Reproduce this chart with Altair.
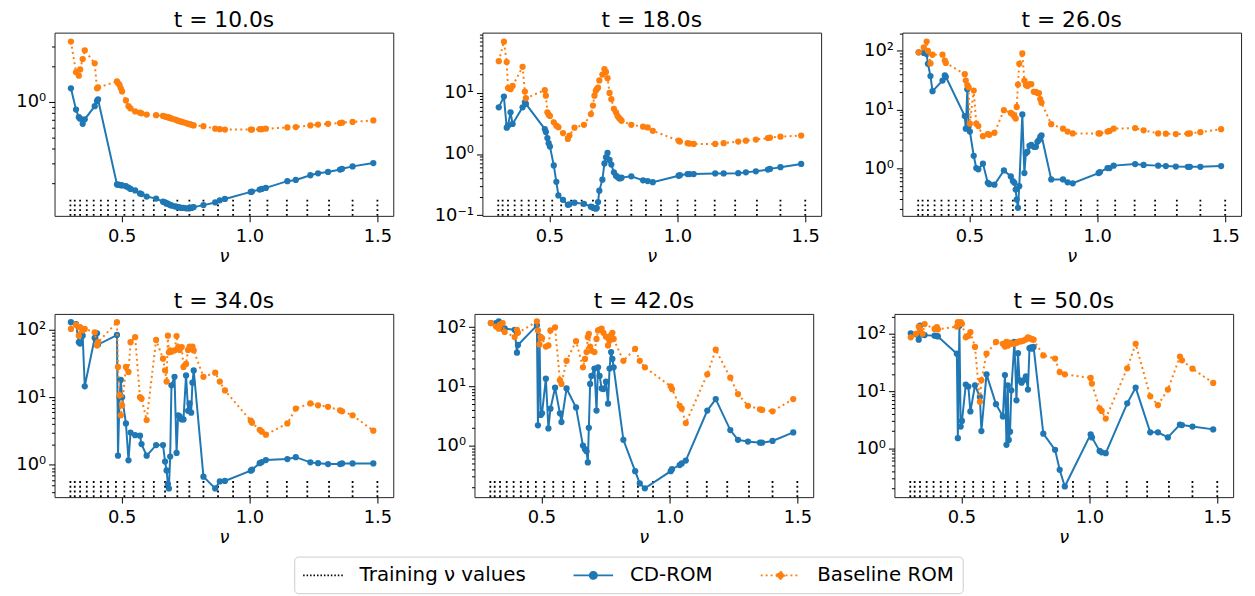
import altair as alt
import pandas as pd

# ---------------- data ----------------
NU_TRAIN = [0.300, 0.317, 0.338, 0.364, 0.391, 0.419, 0.447, 0.478, 0.511, 0.546,
            0.585, 0.626, 0.670, 0.718, 0.765, 0.820, 0.877, 0.936, 1.001, 1.070,
            1.146, 1.226, 1.311, 1.403, 1.500]

NU_TEST = [0.302, 0.322, 0.333, 0.338, 0.348, 0.356, 0.395, 0.404, 0.408,
           0.482, 0.486, 0.492, 0.497, 0.502, 0.517, 0.527, 0.535, 0.553, 0.572, 0.578, 0.598, 0.635,
           0.662, 0.670, 0.676, 0.681, 0.685, 0.690, 0.695, 0.707, 0.715, 0.721, 0.727, 0.735, 0.742,
           0.752, 0.760, 0.766, 0.772, 0.777, 0.782,
           0.820, 0.866, 0.884, 0.904, 1.005, 1.010, 1.040, 1.048, 1.064, 1.148, 1.181, 1.238, 1.268,
           1.307, 1.354, 1.362, 1.403, 1.484]

TITLES = ["t = 10.0s", "t = 18.0s", "t = 26.0s", "t = 34.0s", "t = 42.0s", "t = 50.0s"]

CD_10 = [1.31, 0.86, 0.74, 0.72, 0.65, 0.71, 0.92, 1.02, 1.05,
         0.197, 0.196, 0.195, 0.194, 0.193, 0.19, 0.185, 0.18, 0.175, 0.165, 0.163, 0.155, 0.149,
         0.140, 0.138, 0.136, 0.134, 0.133, 0.131, 0.130, 0.128, 0.127, 0.126, 0.125, 0.124, 0.124,
         0.123, 0.123, 0.123, 0.124, 0.125, 0.126,
         0.131, 0.138, 0.144, 0.148, 0.170, 0.171, 0.178, 0.180, 0.184, 0.21, 0.215, 0.236, 0.245,
         0.252, 0.264, 0.268, 0.281, 0.30]
BASE_10 = [3.29, 1.8, 1.68, 1.9, 2.33, 2.77, 2.14, 1.31, 1.33,
           1.5, 1.45, 1.40, 1.31, 1.23, 1.03, 0.92, 0.88, 0.83, 0.81, 0.80, 0.78, 0.77,
           0.76, 0.75, 0.745, 0.74, 0.735, 0.73, 0.72, 0.71, 0.70, 0.69, 0.685, 0.675, 0.67,
           0.66, 0.65, 0.645, 0.64, 0.635, 0.63,
           0.62, 0.59, 0.585, 0.58, 0.58, 0.58, 0.585, 0.585, 0.59, 0.605, 0.61, 0.63, 0.64,
           0.65, 0.66, 0.665, 0.675, 0.695]

CD_18 = [5.8, 8.7, 2.7, 2.9, 4.8, 3.1, 5.8, 7.0, 6.6,
         2.56, 2.3, 1.82, 1.5, 1.32, 0.65, 0.35, 0.21, 0.178, 0.147, 0.15, 0.159, 0.153,
         0.137, 0.132, 0.130, 0.127, 0.13, 0.163, 0.25, 0.38, 0.70, 0.88, 1.04, 0.8, 0.67,
         0.5, 0.44, 0.42, 0.40, 0.40, 0.41,
         0.43, 0.37, 0.36, 0.345, 0.44, 0.45, 0.47, 0.47, 0.47, 0.48, 0.48, 0.485, 0.50,
         0.52, 0.555, 0.57, 0.607, 0.687]
BASE_18 = [33, 69, 32, 12, 11.5, 13, 26.7, 10.5, 8.2,
           11.1, 9.0, 4.8, 4.4, 4.2, 3.3, 2.9, 2.75, 2.2, 1.76, 2.0, 2.7, 3.0,
           4.5, 6.2, 9.0, 10.8, 11.5, 12.2, 16, 20, 24.4, 22, 17.4, 10, 7.9,
           5.5, 4.8, 4.2, 3.9, 3.7, 3.5,
           3.0, 2.8, 2.72, 2.4, 1.65, 1.6, 1.5, 1.48, 1.46, 1.46, 1.5, 1.6, 1.65,
           1.72, 1.82, 1.85, 1.92, 2.0]

CD_26 = [94, 92, 88, 60, 37, 20.5, 31, 38, 36,
         7.7, 4.7, 22, 5.1, 4.2, 1.62, 1.0, 0.95, 1.19, 0.56, 0.53, 0.52, 0.91,
         0.72, 0.60, 0.56, 0.43, 0.29, 0.21, 0.49, 8.2, 0.82, 1.79, 1.9, 2.4, 2.48,
         2.3, 2.3, 2.8, 3.0, 3.4, 3.6,
         0.64, 0.64, 0.57, 0.55, 0.82, 0.85, 1.0, 1.0, 1.1, 1.17, 1.13, 1.1, 1.08,
         1.06, 1.05, 1.05, 1.05, 1.08]
BASE_26 = [94, 114, 144, 100, 61, 86, 86, 68, 62,
           40, 31, 26, 24, 5.7, 21, 5.7, 5.2, 3.5, 3.8, 3.7, 4.0, 9.7,
           8.7, 8.2, 7.6, 7.0, 11, 26.6, 60, 90, 31, 26, 25, 27, 27,
           20, 20, 19, 19, 15, 13,
           5.6, 4.7, 4.2, 3.9, 3.9, 3.9, 4.2, 4.3, 4.7, 4.8, 4.4, 3.9, 3.85,
           3.8, 3.85, 3.9, 4.1, 4.6]

CD_34 = [128, 120, 65, 62, 81, 14.5, 75, 88, 60,
         83, 1.37, 10, 18, 10, 4.1, 1.17, 3.0, 2.75, 2.7, 2.03, 1.37, 1.96,
         1.96, 1.12, 0.83, 0.52, 0.45, 1.33, 15, 20, 1.5, 5.4, 5.2, 4.7, 4.7,
         21, 6.3, 8.1, 5.9, 16.4, 24.9,
         0.67, 0.45, 0.57, 0.58, 0.82, 0.85, 1.06, 1.1, 1.18, 1.22, 1.3, 1.09, 1.06,
         1.03, 1.03, 1.05, 1.05, 1.05]
BASE_34 = [102, 118, 81, 108, 97, 102, 91, 58, 65,
           128, 28, 10.7, 5.4, 7.6, 28, 23.6, 65, 77, 10, 9.5, 4.6, 70,
           37, 25, 17, 81, 46, 49, 47, 49, 80, 55, 50, 55, 28,
           31, 50, 56, 52, 56, 49,
           20, 23, 17, 12.6, 4.5, 4.2, 3.3, 3.1, 2.8, 4.1, 6.8, 8.1, 7.6,
           7.2, 6.4, 6.2, 5.4, 3.2]

CD_42 = [117, 117, 125, 110, 94, 95, 90, 37, 50,
         107, 2.2, 70, 3.3, 3.5, 13.5, 1.95, 4.2, 9.5, 3.5, 2.5, 9.2, 4.4,
         1.0, 0.87, 0.8, 0.52, 2.0, 11, 15, 20, 3.9, 21, 15, 9.2, 9.0,
         12, 5.1, 20, 38, 29, 21,
         1.25, 0.37, 0.23, 0.19, 0.37, 0.40, 0.47, 0.5, 0.56, 3.9, 6.1, 1.83, 1.25,
         1.17, 1.12, 1.12, 1.2, 1.67]
BASE_42 = [117, 102, 94, 110, 117, 83, 68, 90, 80,
           125, 88, 51, 68, 65, 47, 49, 88, 99, 12.7, 11, 27, 58,
           21, 29, 38, 68, 77, 47, 40, 38, 63, 88, 90, 94, 80,
           69, 49, 59, 73, 80, 63,
           27, 43, 27, 21, 10, 9, 4.7, 4.2, 2.4, 16, 41.5, 14, 7.4,
           4.7, 4.1, 4.0, 3.8, 6.1]

CD_50 = [102, 98, 79, 139, 97, 95, 93, 92, 90,
         45, 1.5, 139, 2.4, 3.0, 13, 12, 4.4, 12.6, 7.9, 2.0, 19.6, 5.9,
         3.6, 19, 1.15, 12.6, 1.4, 1.95, 10.3, 72, 6.9, 46, 15.4, 14, 15.4,
         18, 10.6, 56, 58, 55, 59,
         1.8, 0.94, 0.42, 0.215, 1.75, 1.55, 0.9, 0.85, 0.82, 6.1, 11.5, 1.9, 1.9,
         1.55, 2.6, 2.55, 2.4, 2.14]
BASE_50 = [87, 100, 134, 114, 100, 148, 122, 131, 120,
           134, 160, 148, 160, 150, 87, 92, 107, 59, 6.5, 15.5, 45, 72,
           67, 60, 72, 62, 67, 70, 67, 67, 70, 72, 74, 74, 76,
           80, 87, 84, 82, 80, 79,
           42, 37, 21.5, 19.6, 17, 13.5, 5.0, 4.5, 3.3, 25, 67, 8.1, 5.7,
           10.6, 40, 34.5, 24.6, 13.9]

CD_ALL = [CD_10, CD_18, CD_26, CD_34, CD_42, CD_50]
BASE_ALL = [BASE_10, BASE_18, BASE_26, BASE_34, BASE_42, BASE_50]
Y_DOMAINS = [[0.106, 3.92], [0.097, 97], [0.153, 204], [0.334, 170], [0.135, 167], [0.14, 223]]

SERIES = ["Training \u03bd values", "CD-ROM", "Baseline ROM"]
COLORS = ["#000000", "#1f77b4", "#ff7f0e"]

# ---------------- style ----------------
FONT = "DejaVu Sans"
W, H = 342, 185
color_scale = alt.Scale(domain=SERIES, range=COLORS)
x_scale = alt.Scale(domain=[0.238, 1.562], nice=False, zero=False)

E = "round(log(datum.value)/LN10)"
MAJ = f"abs(log(datum.value)/LN10 - {E}) < 0.001"
LABEL_EXPR = (f"{MAJ} ? ({E} == -1 ? '10\u207b\u00b9' : ({E} == 0 ? '10\u2070' : "
              f"({E} == 1 ? '10\u00b9' : '10\u00b2'))) : ''")


def y_ticks(lo, hi):
    vals = []
    for e in range(-2, 4):
        for m in range(1, 10):
            v = m * 10 ** e
            if lo <= v <= hi:
                vals.append(round(v, 6))
    return vals


# legend glyphs: 20px symbol box (1 unit = 10px); the sample line spans 40px
LEG_PATH_LINE = "M-1,0L3,0"
LEG_PATH_DOT = "M-1,0L3,0M0.65,0A0.35,0.35,0,1,1,1.35,0A0.35,0.35,0,1,1,0.65,0Z"

LEGEND = alt.Legend(
    orient="none", legendX=242, legendY=529, direction="horizontal", title=None,
    symbolSize=400, symbolStrokeWidth=2, symbolOpacity=1,
    symbolType={"expr": f"datum.value == 'CD-ROM' || datum.value == 'Baseline ROM' ? '{LEG_PATH_DOT}' : '{LEG_PATH_LINE}'"},
    symbolStrokeColor={"expr": "datum.value == 'CD-ROM' ? '#1f77b4' : (datum.value == 'Baseline ROM' ? '#ff7f0e' : '#000000')"},
    symbolFillColor={"expr": "datum.value == 'CD-ROM' ? '#1f77b4' : (datum.value == 'Baseline ROM' ? '#ff7f0e' : '#000000')"},
    symbolDash={"expr": "datum.value == 'CD-ROM' ? [1, 0] : (datum.value == 'Baseline ROM' ? [2, 3] : [1.5, 2])"},
    labelFont=FONT, labelFontSize=20, labelColor="black", labelOffset=36, labelLimit=400,
    columnPadding=44, padding=8, strokeColor="#cccccc", fillColor="white", cornerRadius=4,
)

VIEW = alt.ViewBackground(stroke="#222222", strokeWidth=1)


def panel(i):
    lo, hi = Y_DOMAINS[i]
    y_scale = alt.Scale(type="log", domain=[lo, hi], nice=False)
    y_axis = alt.Axis(
        values=y_ticks(lo, hi), labelExpr=LABEL_EXPR, labelOverlap=False, labelFlush=False,
        tickSize={"condition": {"test": MAJ, "value": 6}, "value": 3},
        labelFontSize={"condition": {"test": MAJ, "value": 18}, "value": 0},
        tickColor="black", tickWidth=1, domain=False, grid=False, title=None,
        labelFont=FONT, labelColor="black", labelPadding=3,
        minExtent=41, maxExtent=41,
    )
    x_axis = alt.Axis(
        values=[0.5, 1.0, 1.5], format=".1f", tickSize=6, tickColor="black", domain=False,
        grid=False, labelFont=FONT, labelFontSize=18, labelColor="black", labelPadding=6,
        title="\u03bd", titleFont=FONT, titleFontSize=18, titleFontStyle="italic",
        titleFontWeight="normal", titleColor="black", titlePadding=2,
    )
    n = len(NU_TEST)
    df_cd = pd.DataFrame({"nu": NU_TEST, "value": CD_ALL[i], "series": ["CD-ROM"] * n})
    df_bs = pd.DataFrame({"nu": NU_TEST, "value": BASE_ALL[i], "series": ["Baseline ROM"] * n})
    df_tr = pd.DataFrame({"nu": NU_TRAIN, "series": [SERIES[0]] * len(NU_TRAIN)})

    col = alt.Color("series:N", scale=color_scale, legend=LEGEND)
    rules = alt.Chart(df_tr).mark_rule(strokeWidth=1.8, strokeDash=[1.8, 3]).encode(
        x=alt.X("nu:Q", scale=x_scale, axis=x_axis),
        y=alt.value(H), y2=alt.value(H * 0.9),
        color=col,
    )
    base_enc = dict(x=alt.X("nu:Q", scale=x_scale, axis=x_axis),
                    y=alt.Y("value:Q", scale=y_scale, axis=y_axis))
    cd_line = alt.Chart(df_cd).mark_line(strokeWidth=2).encode(color=col, **base_enc)
    cd_pts = alt.Chart(df_cd).mark_point(filled=True, size=40, opacity=1).encode(color=col, **base_enc)
    bs_line = alt.Chart(df_bs).mark_line(strokeWidth=2, strokeDash=[2, 3.3]).encode(color=col, **base_enc)
    bs_pts = alt.Chart(df_bs).mark_point(filled=True, size=40, opacity=1).encode(color=col, **base_enc)

    return alt.layer(rules, cd_line, cd_pts, bs_line, bs_pts).properties(
        width=W, height=H, view=VIEW,
        title=alt.TitleParams(TITLES[i], font=FONT, fontSize=22, fontWeight="normal",
                              color="black", offset=1, anchor="middle"),
    )


row1 = alt.hconcat(panel(0), panel(1), panel(2), spacing=39)
row2 = alt.hconcat(panel(3), panel(4), panel(5), spacing=39)
chart = alt.vconcat(row1, row2, spacing=23).properties(
    padding={"left": 5, "top": -3, "right": 5, "bottom": 5}
).configure(background="white").configure_view(stroke="#222222", strokeWidth=1)

chart.save("out.html", embed_options={"renderer": "svg", "actions": False})
